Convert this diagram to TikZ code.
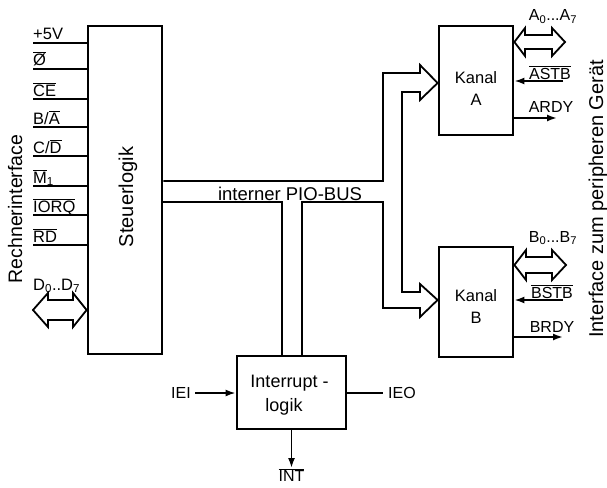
\documentclass[tikz,border=0pt]{standalone}
\usepackage{fontspec}
\setmainfont{Liberation Sans}
\usetikzlibrary{arrows.meta}
\newcommand\ovl[1]{$\overline{\mbox{#1}}$}
\newcommand\fs[1]{\fontsize{#1}{#1}\selectfont}
\begin{document}
\begin{tikzpicture}[x=1pt,y=-1pt,
  box/.style={draw, line width=2.8pt, inner sep=0pt},
  thinln/.style={line width=1.8pt, line join=miter},
  pin/.style={anchor=base west, inner sep=0pt, font=\fs{16.5}},
  side/.style={anchor=base, inner sep=0pt, font=\fs{16}},
  arr/.style={line width=1.8pt, -{Latex[length=10pt,width=7pt]}},
  ]
\useasboundingbox (0,0) rectangle (607,487);
\fill[white] (0,0) rectangle (607,487);

% Steuerlogik
\node[box, minimum width=74pt, minimum height=328pt] (steuer) at (125,190) {};
\node[rotate=90, anchor=base, inner sep=0pt, font=\fs{20}] (steuertxt) at (133,197) {Steuerlogik};

% left side text
\node[rotate=90, anchor=base, inner sep=0pt, font=\fs{19.5}] (rech) at (22,209) {Rechnerinterface};

% pins
\coordinate (p1) at (33,43);
\coordinate (p2) at (33,69);
\coordinate (p3) at (33,99);
\coordinate (p4) at (33,127);
\coordinate (p5) at (33,156);
\coordinate (p6) at (33,186);
\coordinate (p7) at (33,215);
\coordinate (p8) at (33,245);
\foreach \p in {p1,p2,p3,p4,p5,p6,p7,p8}{
  \draw[thinln] (\p) -- (\p -| steuer.west);
}
\node[pin] (l1) at (33,40) {+5V};
\node[pin] (l2) at (33,65) {\ovl{Ø}};
\node[pin] (l3) at (33,96) {\ovl{CE}};
\node[pin] (l4) at (33,124) {B/\ovl{A}};
\node[pin] (l5) at (33,153) {C/\ovl{D}};
\node[pin] (l6) at (33,183) {\ovl{M}\textsubscript{1}};
\node[pin] (l7) at (33,212) {\ovl{IORQ}};
\node[pin] (l8) at (33,242) {\ovl{RD}};
\node[pin] (l9) at (33,290) {D\textsubscript{0}..D\textsubscript{7}};

% D bus double arrow
\draw[thinln] (33,310) -- (48,293) -- (48,300) -- (73,300) -- (73,293) -- (steuer.west |- 0,310)
  -- (73,327) -- (73,320) -- (48,320) -- (48,327) -- cycle;

% Kanal A / B
\node[box, minimum width=74pt, minimum height=109pt] (kA) at (476,80.5) {};
\node[align=center, inner sep=0pt, font=\fontsize{16.5}{22}\selectfont] (kAt) at (476,89) {Kanal\\A};
\node[box, minimum width=74pt, minimum height=110pt] (kB) at (476,302) {};
\node[align=center, inner sep=0pt, font=\fontsize{16.5}{22}\selectfont] (kBt) at (476,306.5) {Kanal\\B};

% Interrupt logic
\node[box, minimum width=109pt, minimum height=73pt] (intr) at (291.5,392.5) {};
\node[align=center, inner sep=0pt, font=\fontsize{18}{24}\selectfont] (intrt) at (284,395) {Interrupt\rlap{ -}\\logik};

% internal bus
\coordinate (s1) at (steuer.east |- 0,181);
\coordinate (s2) at (steuer.east |- 0,202);
\draw[thinln] (s1) -- (383,181) -- (383,73) -- (420,73) -- (420,65) -- (kA.west |- 0,83)
  -- (420,100) -- (420,92) -- (402,92) -- (402,292) -- (420,292) -- (420,284)
  -- (kB.west |- 0,300) -- (420,317) -- (420,308) -- (383,308) -- (383,202)
  -- (302,202) -- (302,356);
\draw[thinln] (282,356) -- (282,202) -- (s2);
\node[anchor=base, inner sep=0pt, font=\fs{18.5}] (bus) at (290,200) {interner PIO-BUS};

% Channel A peripheral side
\draw[thinln] (kA.east |- 0,42) -- (525,28) -- (525,35) -- (552,35) -- (552,28) -- (565,42)
  -- (552,56) -- (552,49) -- (525,49) -- (525,56) -- cycle;
\node[side] (adata) at (553,21) {A\textsubscript{0}...A\textsubscript{7}};
\coordinate (astb) at (563,81);
\draw[arr] (astb) -- (kA.east |- astb);
\node[side] (astbt) at (550,79) {\ovl{ASTB}};
\coordinate (ardy) at (557,118);
\draw[arr] (kA.east |- ardy) -- (ardy);
\node[side] (ardyt) at (551,112) {ARDY};

% Channel B peripheral side
\draw[thinln] (kB.east |- 0,265) -- (526,250) -- (526,257) -- (552,257) -- (552,250) -- (566,265)
  -- (552,280) -- (552,273) -- (526,273) -- (526,280) -- cycle;
\node[side] (bdata) at (553,242) {B\textsubscript{0}...B\textsubscript{7}};
\coordinate (bstb) at (563,300);
\draw[arr] (bstb) -- (kB.east |- bstb);
\node[side] (bstbt) at (552,298) {\ovl{BSTB}};
\coordinate (brdy) at (563,337);
\draw[arr] (kB.east |- brdy) -- (brdy);
\node[side] (brdyt) at (552,332) {BRDY};

% right side text
\node[rotate=90, anchor=base, inner sep=0pt, font=\fs{20}] (periph) at (603,199) {Interface zum peripheren Gerät};

% interrupt signals
\node[anchor=east, inner sep=0pt, font=\fs{16}] (iei) at (191,393) {IEI};
\draw[arr] ([xshift=4pt]iei.east) -- (iei.east -| intr.west);
\node[anchor=west, inner sep=0pt, font=\fs{16}] (ieo) at (388,393) {IEO};
\draw[thinln] (intr.east |- ieo.west) -- ([xshift=-5pt]ieo.west);
\node[anchor=north, inner sep=0pt, font=\fs{16}] (int) at (291.5,468) {\ovl{INT}};
\draw[arr] (intr.south) -- (int.north);
\end{tikzpicture}
\end{document}
